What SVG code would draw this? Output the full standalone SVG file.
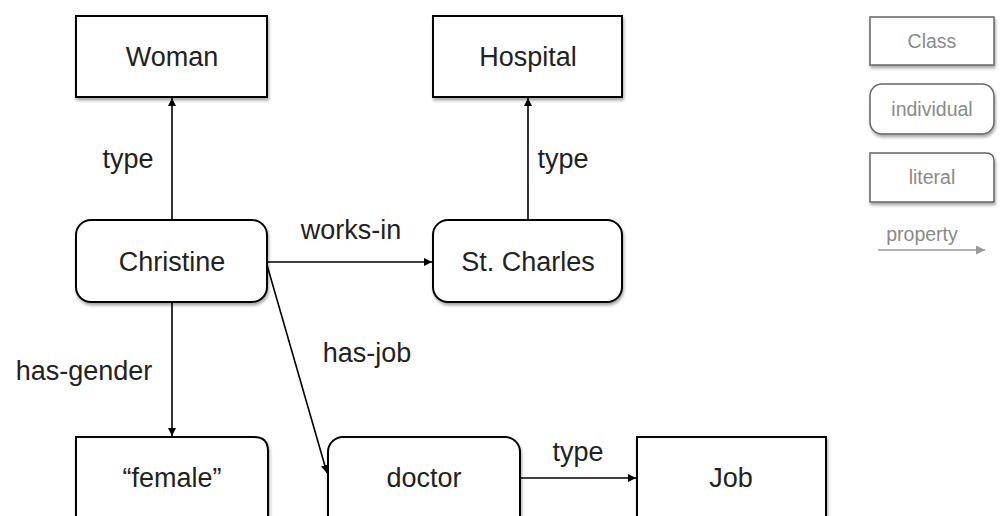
<svg xmlns="http://www.w3.org/2000/svg" width="1000" height="516" viewBox="0 0 1000 516">
<defs>
<filter id="sh" x="-10%" y="-10%" width="130%" height="140%">
<feDropShadow dx="1" dy="2.5" stdDeviation="1.5" flood-color="#000" flood-opacity="0.35"/>
</filter>
<marker id="ah" viewBox="0 0 10 10" refX="10" refY="5" markerWidth="8" markerHeight="8" markerUnits="userSpaceOnUse" orient="auto">
<path d="M0,0 L10,5 L0,10 z" fill="#000"/>
</marker>
<marker id="ahg" viewBox="0 0 10 10" refX="10" refY="5" markerWidth="9" markerHeight="9" markerUnits="userSpaceOnUse" orient="auto">
<path d="M0,0 L10,5 L0,10 z" fill="#999"/>
</marker>
</defs>
<style>
.box{fill:#fff;stroke:#000;stroke-width:2;filter:url(#sh)}
.lbox{fill:#fff;stroke:#666;stroke-width:1.5;filter:url(#sh)}
.t{font-family:"Liberation Sans",Arial,sans-serif;font-size:27px;fill:#222;text-anchor:middle}
.lt{font-family:"Liberation Sans",Arial,sans-serif;font-size:19.5px;fill:#8a8a8a;text-anchor:middle}
.e{fill:none;stroke:#000;stroke-width:1.6;marker-end:url(#ah)}
</style>
<rect width="1000" height="516" fill="#fff"/>
<g id="connectors">
<line class="e" x1="172" y1="220" x2="172" y2="98"/>
<line class="e" x1="528" y1="220" x2="528" y2="98"/>
<line class="e" x1="267" y1="262" x2="432" y2="262"/>
<line class="e" x1="172" y1="302" x2="172" y2="436"/>
<line class="e" x1="267" y1="265" x2="327" y2="473"/>
<line class="e" x1="520" y1="478" x2="636" y2="478"/>
<text class="t" x="128" y="168">type</text>
<text class="t" x="563" y="168">type</text>
<text class="t" x="351" y="239">works-in</text>
<text class="t" x="84" y="380">has-gender</text>
<text class="t" x="367" y="362">has-job</text>
<text class="t" x="578" y="461">type</text>
</g>
<g id="woman"><rect class="box" x="76" y="16" width="191" height="81"/><text class="t" x="172" y="66">Woman</text></g>
<g id="hospital"><rect class="box" x="433" y="16" width="189" height="81"/><text class="t" x="528" y="66">Hospital</text></g>
<g id="christine"><rect class="box" x="76" y="220" width="191" height="82" rx="15"/><text class="t" x="172" y="271">Christine</text></g>
<g id="stcharles"><rect class="box" x="433" y="220" width="189" height="82" rx="15"/><text class="t" x="528" y="271">St. Charles</text></g>
<g id="female"><path class="box" d="M76,437 H254 Q268,437 268,451 V540 H76 Z"/><text class="t" x="172" y="487">“female”</text></g>
<g id="doctor"><rect class="box" x="328" y="437" width="192" height="110" rx="15"/><text class="t" x="424" y="487">doctor</text></g>
<g id="job"><rect class="box" x="637" y="437" width="189" height="110"/><text class="t" x="731" y="487">Job</text></g>
<g id="legend">
<g id="leg-class"><rect class="lbox" x="870" y="17" width="124" height="48"/><text class="lt" x="932" y="48">Class</text></g>
<g id="leg-individual"><rect class="lbox" x="870" y="84" width="124" height="50" rx="12"/><text class="lt" x="932" y="116">individual</text></g>
<g id="leg-literal"><path class="lbox" d="M870,153 H986 Q994,153 994,161 V202 H870 Z"/><text class="lt" x="932" y="184">literal</text></g>
<g id="leg-property"><text class="lt" x="922" y="241">property</text><line x1="878" y1="250" x2="985" y2="250" stroke="#999" stroke-width="1.6" marker-end="url(#ahg)"/></g>
</g>
</svg>
